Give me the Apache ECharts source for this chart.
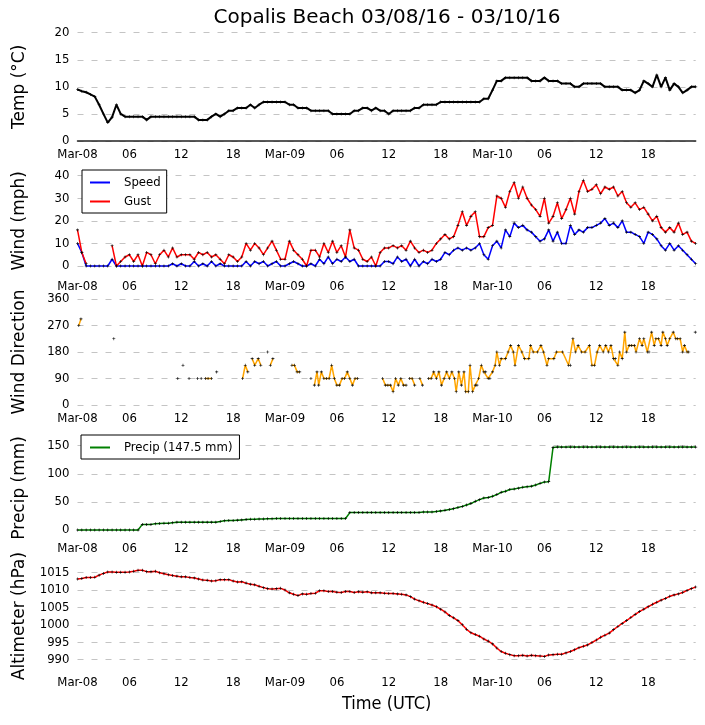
<!doctype html>
<html>
<head>
    <meta charset="utf-8">
    <title>Copalis Beach 03/08/16 - 03/10/16</title>
    <script type="text/javascript" src="https://cdn.jsdelivr.net/npm/echarts/dist/echarts.min.js"></script>
    <style>
        html, body { margin: 0; padding: 0; background: #fff; }
        #container { width: 705px; height: 725px; }
    </style>
</head>
<body>
<div id="container"></div>
<script type="text/javascript">

    // station readings, one every half hour from Mar-08 00:00 UTC
    var STEP = 0.5;
    var xTickLabels = ['Mar-08', '06', '12', '18', 'Mar-09', '06', '12', '18', 'Mar-10', '06', '12', '18'];

    var temp = [
        9.5, 9.2, 9.0, 8.6, 8.2, 6.7, 5.0, 3.4, 4.4, 6.7, 5.0, 4.5,
        4.5, 4.5, 4.5, 4.5, 3.9, 4.5, 4.5, 4.5, 4.5, 4.5, 4.5, 4.5,
        4.5, 4.5, 4.5, 4.5, 3.9, 3.9, 3.9, 4.5, 5.0, 4.5, 5.0, 5.6,
        5.6, 6.1, 6.1, 6.1, 6.7, 6.1, 6.7, 7.2, 7.2, 7.2, 7.2, 7.2,
        7.2, 6.7, 6.7, 6.1, 6.1, 6.1, 5.6, 5.6, 5.6, 5.6, 5.6, 5.0,
        5.0, 5.0, 5.0, 5.0, 5.6, 5.6, 6.1, 6.1, 5.6, 6.1, 5.6, 5.6,
        5.0, 5.6, 5.6, 5.6, 5.6, 5.6, 6.1, 6.1, 6.7, 6.7, 6.7, 6.7,
        7.2, 7.2, 7.2, 7.2, 7.2, 7.2, 7.2, 7.2, 7.2, 7.2, 7.8, 7.8,
        9.4, 11.1, 11.1, 11.7, 11.7, 11.7, 11.7, 11.7, 11.7, 11.1, 11.1, 11.1,
        11.7, 11.1, 11.1, 11.1, 10.6, 10.6, 10.6, 10.0, 10.0, 10.6, 10.6, 10.6,
        10.6, 10.6, 10.0, 10.0, 10.0, 10.0, 9.4, 9.4, 9.4, 8.9, 9.4, 11.1,
        10.6, 10.0, 12.2, 10.0, 11.7, 9.4, 10.6, 10.0, 8.9, 9.4, 10.0, 10.0
    ];

    var windSpeed = [
        10, 6, 0, 0, 0, 0, 0, 0, 3, 0, 0, 0,
        0, 0, 0, 0, 0, 0, 0, 0, 0, 0, 1, 0,
        1, 0, 0, 2, 0, 1, 0, 2, 0, 1, 0, 0,
        0, 0, 0, 2, 0, 2, 1, 2, 0, 1, 2, 0,
        0, 1, 2, 1, 0, 0, 1, 0, 3, 1, 4, 1,
        3, 2, 4, 2, 3, 0, 0, 0, 0, 0, 0, 2,
        2, 1, 4, 2, 3, 0, 3, 0, 2, 1, 3, 2,
        3, 6, 5, 7, 8, 7, 8, 7, 8, 10, 5, 3,
        9, 11, 8, 16, 13, 19, 17, 18, 16, 15, 13, 11,
        12, 16, 11, 15, 10, 10, 18, 14, 16, 15, 17, 17,
        18, 19, 21, 18, 19, 17, 20, 15, 15, 14, 13, 10,
        15, 14, 12, 9, 7, 10, 7, 9, 7, 5, 3, 1
    ];

    var windGust = [
        16, 6, 1, null, null, null, null, null, 9, 0, 2, 4,
        5, 2, 5, 0, 6, 5, 1, 5, 7, 4, 8, 4,
        5, 5, 5, 3, 6, 5, 6, 4, 5, 3, 1, 5,
        4, 2, 4, 10, 7, 10, 8, 5, 8, 11, 7, 3,
        3, 11, 7, 5, 3, 0, 7, 7, 4, 10, 6, 11,
        6, 9, 4, 16, 8, 7, 3, 2, 4, 0, 6, 8,
        8, 9, 8, 9, 7, 11, 8, 6, 7, 6, 7, 10,
        12, 14, 12, 13, 18, 24, 18, 22, 24, 13, 13, 17,
        18, 31, 30, 26, 33, 37, 30, 35, 30, 27, 25, 22,
        30, 19, 22, 28, 21, 25, 30, 23, 33, 38, 33, 34,
        36, 32, 35, 34, 35, 31, 33, 28, 26, 28, 25, 26,
        23, 20, 22, 17, 15, 17, 15, 19, 14, 15, 11, 10
    ];

    var precip = [
        0, 0, 0, 0, 0, 0, 0, 0, 0, 0, 0, 0,
        0, 0, 0, 10, 10, 10, 11, 11.5, 12, 12, 13, 14,
        14, 14, 14, 14, 14, 14, 14, 14, 14, 15, 16.5, 17,
        17, 17.5, 18, 18.5, 19, 19, 19.5, 19.5, 20, 20, 20.5, 20.5,
        20.5, 20.5, 20.5, 20.5, 20.5, 20.5, 20.5, 20.5, 20.5, 20.5, 20.5, 20.5,
        20.5, 20.5, 20.5, 31, 31, 31, 31, 31, 31, 31, 31, 31,
        31, 31, 31, 31, 31, 31, 31, 31, 32, 32, 32, 33,
        34, 35, 36.5, 38, 40, 42, 44.5, 47, 51, 54, 57, 58,
        60, 63, 67, 69, 72, 73, 74.5, 76, 77, 78, 80, 83,
        85.5, 86, 147, 147.5, 147.5, 147.5, 147.5, 147.5, 147.5, 147.5, 147.5, 147.5,
        147.5, 147.5, 147.5, 147.5, 147.5, 147.5, 147.5, 147.5, 147.5, 147.5, 147.5, 147.5,
        147.5, 147.5, 147.5, 147.5, 147.5, 147.5, 147.5, 147.5, 147.5, 147.5, 147.5, 147.5
    ];
    var precipTotal = 147.5;

    var altimeter = [
        1013.2, 1013.3, 1013.6, 1013.6, 1013.7, 1014.3, 1014.8, 1015.2, 1015.2, 1015.1, 1015.1, 1015.1,
        1015.2, 1015.4, 1015.7, 1015.7, 1015.3, 1015.3, 1015.4, 1015.0, 1014.7, 1014.4, 1014.2, 1014.0,
        1013.8, 1013.8, 1013.6, 1013.5, 1013.2, 1012.9, 1012.8, 1012.6, 1012.7, 1013.0, 1013.0, 1013.0,
        1012.6, 1012.3, 1012.4, 1012.0, 1011.7, 1011.5, 1011.1, 1010.7, 1010.4, 1010.3, 1010.4, 1010.5,
        1010.0, 1009.2, 1008.8, 1008.4, 1008.9, 1008.8, 1009.0, 1009.1, 1009.8, 1009.8, 1009.6, 1009.6,
        1009.4, 1009.3, 1009.6, 1009.6, 1009.3, 1009.5, 1009.4, 1009.5, 1009.2, 1009.2, 1009.2, 1009.1,
        1009.0, 1009.0, 1008.9, 1008.8, 1008.6, 1008.1, 1007.4, 1006.9, 1006.5, 1006.1, 1005.7, 1005.2,
        1004.5, 1003.7, 1002.7, 1002.0, 1001.2, 1000.0, 998.7, 997.7, 997.2, 996.7, 995.9, 995.3,
        994.5, 993.3, 992.3, 991.8, 991.4, 991.1, 991.1, 991.2, 991.0, 991.2, 991.1, 991.0,
        990.9, 991.3, 991.4, 991.5, 991.5, 991.9, 992.3, 992.8, 993.4, 993.8, 994.2, 994.9,
        995.6, 996.4, 997.0, 997.6, 998.6, 999.5, 1000.4, 1001.2, 1002.1, 1003.0, 1003.8, 1004.5,
        1005.2, 1005.9, 1006.5, 1007.1, 1007.6, 1008.2, 1008.6, 1008.9, 1009.3, 1009.9, 1010.4, 1010.9
    ];

    // wind direction only reported when the wind blows: [hour, degrees] runs
    var windDirRuns = [
        [[0.15, 270], [0.4, 292.5]],
        [[4.2, 225]],
        [[11.6, 90]],
        [[12.2, 135]],
        [[12.9, 90]],
        [[13.9, 90]],
        [[14.3, 90]],
        [[14.8, 90], [15.1, 90], [15.5, 90]],
        [[16.1, 112.5]],
        [[19.1, 90], [19.4, 135], [19.7, 112.5]],
        [[20.2, 157.5], [20.5, 135], [20.9, 157.5], [21.2, 135]],
        [[22.0, 180]],
        [[22.3, 135], [22.6, 157.5]],
        [[24.8, 135], [25.1, 135], [25.4, 112.5], [25.7, 112.5]],
        [[27.0, 90]],
        [[27.4, 67.5], [27.7, 112.5], [27.9, 67.5], [28.2, 112.5], [28.5, 90], [28.8, 90], [29.1, 90],
            [29.4, 135], [29.7, 90], [30.0, 67.5], [30.3, 67.5], [30.6, 90], [30.9, 90], [31.2, 112.5],
            [31.5, 90], [31.8, 67.5], [32.1, 90], [32.4, 90]],
        [[35.3, 90], [35.6, 67.5], [35.9, 67.5], [36.2, 67.5], [36.5, 45], [36.8, 90], [37.1, 67.5],
            [37.4, 90], [37.7, 67.5], [38.0, 67.5]],
        [[38.4, 90], [38.7, 90], [39.0, 67.5]],
        [[39.6, 90], [39.9, 67.5]],
        [[40.6, 90], [40.9, 90], [41.2, 112.5], [41.5, 90], [41.8, 112.5], [42.1, 67.5], [42.4, 90],
            [42.7, 112.5], [43.0, 90], [43.3, 112.5], [43.6, 90], [43.8, 45], [44.1, 112.5], [44.4, 67.5],
            [44.7, 112.5], [44.9, 45], [45.2, 45], [45.4, 135], [45.7, 45], [46.0, 67.5], [46.2, 67.5],
            [46.4, 90], [46.7, 135], [47.0, 112.5], [47.2, 112.5], [47.5, 90], [47.7, 90], [48.0, 112.5],
            [48.3, 135], [48.5, 180], [48.8, 135], [49.0, 157.5], [49.5, 157.5], [49.8, 180], [50.1, 202.5],
            [50.4, 180], [50.6, 135], [51.0, 202.5], [51.4, 180], [51.7, 157.5], [52.2, 157.5], [52.4, 202.5],
            [52.7, 180], [53.2, 180], [53.6, 202.5], [53.9, 180], [54.3, 135], [54.5, 157.5], [55.1, 157.5],
            [55.4, 180], [56.1, 180], [56.8, 135], [57.0, 135], [57.3, 225], [57.6, 180], [57.9, 202.5],
            [58.3, 180], [58.7, 180], [59.2, 202.5], [59.5, 135], [59.8, 135], [60.1, 180], [60.4, 202.5],
            [60.8, 180], [61.1, 202.5], [61.4, 180], [61.7, 202.5], [62.0, 157.5], [62.2, 157.5], [62.5, 135],
            [62.7, 180], [63.0, 157.5], [63.3, 247.5], [63.5, 180], [63.8, 202.5], [64.1, 202.5], [64.4, 202.5],
            [64.6, 180], [65.0, 225], [65.3, 202.5], [65.5, 225], [65.9, 180], [66.1, 180], [66.4, 247.5],
            [66.7, 202.5], [66.9, 225], [67.2, 225], [67.5, 202.5], [67.7, 247.5], [68.0, 225], [68.2, 202.5],
            [68.5, 225], [68.9, 247.5], [69.2, 225], [69.4, 225], [69.7, 225], [70.0, 180], [70.2, 202.5],
            [70.5, 180], [70.7, 180]],
        [[71.45, 247.5]]
    ];

    var FONT = "'DejaVu Sans', sans-serif";
    var FONT_C = "'DejaVu Sans Condensed', 'DejaVu Sans', sans-serif";
    var PLUS = 'path://M2,0L3,0L3,2L5,2L5,3L3,3L3,5L2,5L2,3L0,3L0,2L2,2Z';
    var X_MAX = 71.5;

    function pairs(values) {
        return values.map(function (v, i) { return [i * STEP, v]; });
    }

    function joinRuns(runs) {
        var out = [];
        runs.forEach(function (run, k) {
            if (k > 0) out.push([run[0][0] - 0.05, null]);
            run.forEach(function (p) { out.push(p); });
        });
        return out;
    }

    function xAxisFor(i, margin, lineOn) {
        return {
            type: 'value', gridIndex: i, min: 0, max: X_MAX, interval: 6,
            axisTick: {show: false},
            splitLine: {show: false},
            axisLine: {show: !!lineOn, onZero: false, lineStyle: {color: '#222', width: 1.5}},
            axisLabel: {
                margin: margin, color: '#000', fontSize: 13, fontFamily: FONT_C,
                showMaxLabel: false,
                formatter: function (v) {
                    if (v % 6 !== 0) return '';
                    return xTickLabels[v / 6] || '';
                }
            }
        };
    }

    function yAxisFor(i, name, min, max, interval) {
        return {
            type: 'value', gridIndex: i, min: min, max: max, interval: interval,
            name: name, nameLocation: 'middle', nameGap: 49,
            nameTextStyle: {fontSize: 17, fontFamily: FONT, color: '#000'},
            axisLine: {show: false}, axisTick: {show: false},
            axisLabel: {
                margin: 8, color: '#000', fontSize: 13, fontFamily: FONT_C,
                formatter: function (v) { return String(v); }
            },
            splitLine: {show: true, lineStyle: {color: '#c4c4c4', width: 1, type: [6, 8]}}
        };
    }

    function lineSeries(name, i, data, color, width) {
        return {
            name: name, type: 'line', xAxisIndex: i, yAxisIndex: i,
            data: data, clip: false, connectNulls: false,
            symbol: PLUS, symbolSize: 3, showSymbol: true,
            itemStyle: {color: '#000'},
            lineStyle: {color: color, width: width || 1.5},
            emphasis: {disabled: true}
        };
    }

    var dom = document.getElementById("container");
    var myChart = echarts.init(dom);
    var option = null;

    var precipName = 'Precip (' + precipTotal + ' mm)';
    var xAxes = [xAxisFor(0, 7, true), xAxisFor(1, 14), xAxisFor(2, 7), xAxisFor(3, 12), xAxisFor(4, 17)];
    xAxes[4].name = 'Time (UTC)';
    xAxes[4].nameLocation = 'middle';
    xAxes[4].nameGap = 36;
    xAxes[4].nameTextStyle = {fontSize: 18, fontFamily: FONT_C, color: '#000'};

    option = {
        animation: false,
        backgroundColor: '#fff',
        graphic: [{
            type: 'text', x: 387, y: 18,
            style: {
                text: 'Copalis Beach 03/08/16 - 03/10/16',
                fontSize: 20, fontFamily: FONT, fill: '#000',
                align: 'center', verticalAlign: 'middle'
            }
        }],
        grid: [
            {left: 77.5, right: 9.3, top: 32.7, height: 108.3},
            {left: 77.5, right: 9.3, top: 175.7, height: 90.3},
            {left: 77.5, right: 9.3, top: 299, height: 106},
            {left: 77.5, right: 9.3, top: 445.7, height: 84.3},
            {left: 77.5, right: 9.3, top: 572.7, height: 86.8}
        ],
        legend: [{
            left: 82, top: 170, orient: 'vertical', selectedMode: false,
            icon: 'rect', itemWidth: 20, itemHeight: 2, itemGap: 4,
            padding: [5, 6, 4, 8],
            backgroundColor: '#fff', borderColor: '#000', borderWidth: 1, borderRadius: 0,
            textStyle: {fontSize: 13, fontFamily: FONT_C, color: '#000', padding: [0, 0, 0, 9], lineHeight: 15},
            data: [
                {name: 'Speed', itemStyle: {color: '#0000ff'}},
                {name: 'Gust', itemStyle: {color: '#ff0000'}}
            ]
        }, {
            left: 81, top: 435, orient: 'vertical', selectedMode: false,
            icon: 'rect', itemWidth: 20, itemHeight: 2,
            padding: [5, 7, 4, 9],
            backgroundColor: '#fff', borderColor: '#000', borderWidth: 1, borderRadius: 0,
            textStyle: {fontSize: 13, fontFamily: FONT_C, color: '#000', padding: [0, 0, 0, 9], lineHeight: 15},
            data: [{name: precipName, itemStyle: {color: '#008000'}}]
        }],
        xAxis: xAxes,
        yAxis: [
            yAxisFor(0, 'Temp (°C)', 0, 20, 5),
            yAxisFor(1, 'Wind (mph)', 0, 40, 10),
            yAxisFor(2, 'Wind Direction', 0, 360, 90),
            yAxisFor(3, 'Precip (mm)', 0, 150, 50),
            yAxisFor(4, 'Altimeter (hPa)', 990, 1015, 5)
        ],
        series: [
            lineSeries('Temp', 0, pairs(temp), '#000', 2),
            lineSeries('Speed', 1, pairs(windSpeed), '#0000ff'),
            lineSeries('Gust', 1, pairs(windGust), '#ff0000'),
            lineSeries('Direction', 2, joinRuns(windDirRuns), '#ffa500'),
            lineSeries(precipName, 3, pairs(precip), '#008000'),
            lineSeries('Altimeter', 4, pairs(altimeter), '#ff0000')
        ]
    };

    if (option && typeof option === "object") {
        myChart.setOption(option, true);
    }
</script>
</body>
</html>
